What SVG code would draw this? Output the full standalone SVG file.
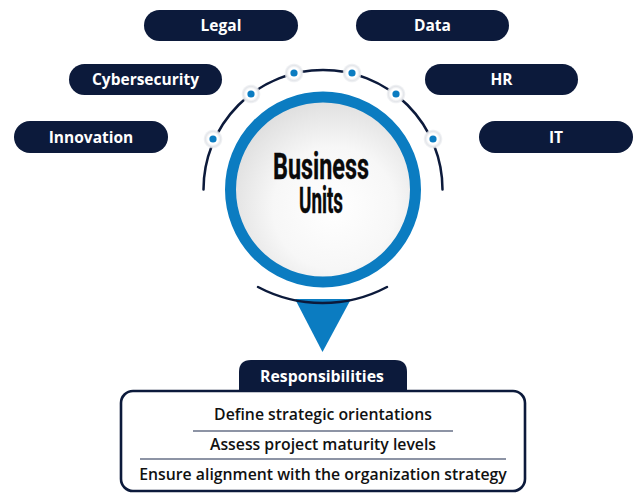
<svg xmlns="http://www.w3.org/2000/svg" width="634" height="494" viewBox="0 0 634 494">
  <defs>
    <radialGradient id="discFill" cx="0.56" cy="0.6" r="0.6">
      <stop offset="0" stop-color="#ffffff"/>
      <stop offset="0.55" stop-color="#f7f7f7"/>
      <stop offset="1" stop-color="#dedede"/>
    </radialGradient>
    <radialGradient id="dotHalo" cx="0.5" cy="0.5" r="0.5">
      <stop offset="0.55" stop-color="#ffffff"/>
      <stop offset="0.8" stop-color="#e4e6ea"/>
      <stop offset="1" stop-color="#eef0f3" stop-opacity="0.6"/>
    </radialGradient>
  </defs>
  <style>
    .pill { fill: #0c1a3b; }
    .pill-label { fill: #ffffff; font-family: "Open Sans", "Noto Sans", sans-serif; font-weight: 700; font-size: 15.5px; text-anchor: middle; }
    .arc { fill: none; stroke: #0c1a3b; stroke-width: 2.5; stroke-linecap: round; }
    .dot-halo { fill: url(#dotHalo); }
    .dot { fill: #0b7cc1; }
    .title { fill: #0a0a0a; stroke: #0a0a0a; stroke-width: 0.35; font-family: "Roboto", "DejaVu Sans", sans-serif; font-weight: 700; font-size: 37px; text-anchor: middle; }
    .item { fill: #111111; font-family: "Open Sans", "Noto Sans", sans-serif; font-weight: 600; font-size: 15.8px; text-anchor: middle; }
    .rule { stroke: #1c2b4c; stroke-width: 1.2; }
  </style>

  <!-- business area pills -->
  <g id="node-legal">
    <rect class="pill" x="144" y="10" width="154" height="31" rx="15.5"/>
    <text class="pill-label" x="221" y="31">Legal</text>
  </g>
  <g id="node-data">
    <rect class="pill" x="356" y="10" width="153" height="31" rx="15.5"/>
    <text class="pill-label" x="432.5" y="31">Data</text>
  </g>
  <g id="node-cybersecurity">
    <rect class="pill" x="69" y="64" width="153" height="31" rx="15.5"/>
    <text class="pill-label" x="145.5" y="85">Cybersecurity</text>
  </g>
  <g id="node-hr">
    <rect class="pill" x="425" y="64" width="153" height="31" rx="15.5"/>
    <text class="pill-label" x="501.5" y="85">HR</text>
  </g>
  <g id="node-innovation">
    <rect class="pill" x="14" y="121" width="154" height="32" rx="16"/>
    <text class="pill-label" x="91" y="142.5">Innovation</text>
  </g>
  <g id="node-it">
    <rect class="pill" x="479" y="121" width="154" height="32" rx="16"/>
    <text class="pill-label" x="556" y="142.5">IT</text>
  </g>

  <!-- orbit arcs and pointer -->
  <g id="connectors">
    <path class="arc" d="M 203.5 189.5 A 119.5 119.5 0 0 1 442.5 189.5"/>
    <polygon points="295,299 351,299 322.5,352" fill="#0b7cc1"/>
    <path class="arc" d="M 258 287 A 138 138 0 0 0 387 287" stroke-width="3"/>
    <g id="orbit-dots">
      <circle class="dot-halo" cx="294" cy="73" r="9.5"/>
      <circle class="dot" cx="294" cy="73" r="3.6"/>
      <circle class="dot-halo" cx="352" cy="73" r="9.5"/>
      <circle class="dot" cx="352" cy="73" r="3.6"/>
      <circle class="dot-halo" cx="251" cy="94" r="9.5"/>
      <circle class="dot" cx="251" cy="94" r="3.6"/>
      <circle class="dot-halo" cx="396" cy="94" r="9.5"/>
      <circle class="dot" cx="396" cy="94" r="3.6"/>
      <circle class="dot-halo" cx="213" cy="139" r="9.5"/>
      <circle class="dot" cx="213" cy="139" r="3.6"/>
      <circle class="dot-halo" cx="433" cy="139" r="9.5"/>
      <circle class="dot" cx="433" cy="139" r="3.6"/>
    </g>
  </g>

  <!-- central hub -->
  <g id="node-business-units">
    <circle cx="323" cy="189.5" r="92.5" fill="url(#discFill)" stroke="#0b7cc1" stroke-width="11"/>
    <text class="title" x="321" y="179" textLength="96" lengthAdjust="spacingAndGlyphs">Business</text>
    <text class="title" x="321" y="212.5" textLength="44" lengthAdjust="spacingAndGlyphs">Units</text>
  </g>

  <!-- responsibilities panel -->
  <g id="node-responsibilities">
    <path d="M 239 392 L 239 372 Q 239 360 251 360 L 395 360 Q 407 360 407 372 L 407 392 Z" fill="#0c1a3b"/>
    <rect x="121" y="391" width="404" height="100" rx="12" fill="#ffffff" stroke="#0c1a3b" stroke-width="2.6"/>
    <rect x="239" y="385" width="168" height="7" fill="#0c1a3b"/>
    <text class="pill-label" x="322" y="381.5" style="font-size:15.8px">Responsibilities</text>
    <text class="item" x="323" y="419.5">Define strategic orientations</text>
    <line class="rule" x1="193" y1="431" x2="453" y2="431"/>
    <text class="item" x="323" y="449.5">Assess project maturity levels</text>
    <line class="rule" x1="140" y1="459" x2="506" y2="459"/>
    <text class="item" x="323" y="480">Ensure alignment with the organization strategy</text>
  </g>
</svg>
